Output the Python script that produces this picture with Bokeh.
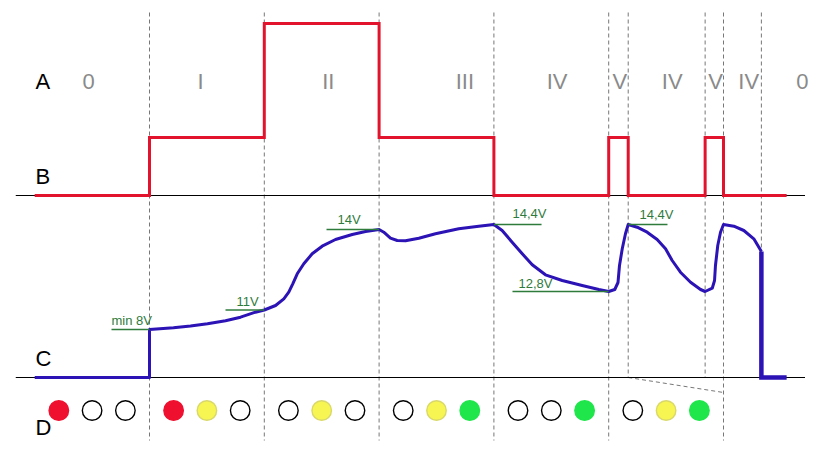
from bokeh.plotting import figure
from bokeh.models import Range1d
from bokeh.core.properties import value
from bokeh.embed import file_html
from bokeh.resources import INLINE

# ---------------- data ----------------
# time axis (arbitrary units); phase boundaries
t_start, t_end = -10, 55.5
phase_bounds = [0, 10, 20, 30, 40, 41.7, 48.4, 50, 53.3]
# boundary lines that stop at the C baseline
short_bounds = [41.7, 48.4, 53.3]

# signal A/B (red): level per segment
red_levels = [0, 1, 2, 1, 0, 1, 0, 1, 0, 0]
red_level_height = [0, 58, 172]   # display height of level 0/1/2 above B baseline
B_BASE = 182                       # B baseline (display units)
C_BASE = 0                         # C baseline

# phase names
phase_names = ["0", "I", "II", "III", "IV", "V", "IV", "V", "IV", "0"]
phase_name_t = [-5.3, 4.45, 15.57, 27.47, 35.5, 40.97, 45.53, 49.3, 52.2, 56.86]
phase_name_v = 296

# signal C (blue): voltage curve, display height above C baseline
c_t = [-10, 0, 0, 2.09, 3.57, 5.05, 6.62, 7.93, 9.23, 10.0, 10.98, 11.70, 12.13,
       12.48, 12.87, 13.44, 14.17, 15.04, 16.20, 17.66, 18.82, 20.0, 20.41, 20.99,
       21.58, 22.30, 23.46, 24.91, 26.94, 28.68, 30.0, 30.72, 31.59, 32.47, 33.34,
       34.49, 35.95, 37.69, 39.14, 40.0, 40.53, 40.81, 40.94, 41.18, 41.46, 41.7,
       42.48, 43.35, 44.22, 44.95, 45.53, 46.25, 47.13, 48.0, 48.4, 49.02, 49.22,
       49.30, 49.50, 49.74, 50.0, 50.9, 51.77, 52.64, 53.3]
c_v = [0, 0, 48, 49.7, 51.5, 53.7, 56.7, 60.3, 65.3, 67.5, 72, 78.7, 85.3,
       93.7, 103.7, 113.7, 123.7, 131.3, 138, 143, 146, 148, 145.3, 139.3,
       137, 136.7, 139.3, 143.7, 148.7, 151.3, 153, 147, 135.3, 123.7, 112.7,
       102.7, 97, 92, 88, 86, 88, 95, 112, 128.7, 143.7, 153,
       150.3, 145.3, 138, 128.7, 117, 105.3, 95.3, 88, 86, 89.3, 97,
       112, 132, 145.3, 153, 151.3, 147, 138.7, 126]
c_off_t = [53.3, 53.3, 55.5]
c_off_v = [126, 0, 0]

# voltage annotations
ann_text = ["min 8V", "11V", "14V", "14,4V", "12,8V", "14,4V"]
ann_t0 = [-3.31, 6.62, 15.42, 30.0, 31.62, 41.7]
ann_t1 = [0.0, 10.0, 20.0, 34.15, 40.0, 45.12]
ann_v = [48, 67.5, 148, 153, 86, 153]
ann_text_t = [-3.31, 7.58, 16.38, 31.62, 32.14, 42.68]
ann_text_v = [57.5, 76.5, 158.5, 164, 94.5, 163.5]

# D: indicator lamps per phase group
lamp_group_t = [-5, 5, 15, 25, 35, 45]
lamp_states = [["red", "off", "off"],
               ["red", "yellow", "off"],
               ["off", "yellow", "off"],
               ["off", "yellow", "green"],
               ["off", "off", "green"],
               ["off", "yellow", "green"]]
lamp_spacing = 2.9
LAMP_V = -33

row_labels = ["A", "B", "C", "D"]
row_label_t = -9.93
row_label_v = [296.2, 201.2, 19.2, -49.5]

# ---------------- styles ----------------
RED = "#e2132d"
BLUE = "#2b13b6"
GREEN_TXT = "#2f7b3c"
GRAY_TXT = "#8a8a8a"
DASH = "#777777"
FONT = "Liberation Sans"
lamp_fill = {"red": "#ef1030", "yellow": "#f6f552", "green": "#1fe64b", "off": "white"}
lamp_line = {"red": "#ef1030", "yellow": "#d9d86a", "green": "#1fe64b", "off": "black"}

px_per_t = 11.48
W, H = 820, 457
x0 = -149 / px_per_t
p = figure(width=W, height=H, output_backend="svg", toolbar_location=None,
           x_range=Range1d(x0, x0 + W / px_per_t), y_range=Range1d(-80, -80 + H),
           min_border=0)
p.axis.visible = False
p.grid.visible = False
p.outline_line_color = None
p.background_fill_color = "white"
p.border_fill_color = "white"

# dashed phase lines
for b in phase_bounds:
    bottom = C_BASE if b in short_bounds else -63
    p.line([b, b], [365, bottom], line_color=DASH, line_width=1, line_dash="4 3")
p.line([41.7, 50], [C_BASE, -15], line_color=DASH, line_width=1, line_dash="4 3")

# baselines
for yb in (B_BASE, C_BASE):
    p.line([-11.65, 57.1], [yb, yb], line_color="black", line_width=1)

# red signal
edges = [t_start] + phase_bounds + [t_end]
rx, ry = [], []
for i, lvl in enumerate(red_levels):
    y = B_BASE + red_level_height[lvl]
    rx += [edges[i], edges[i + 1]]
    ry += [y, y]
p.line(rx, ry, line_color=RED, line_width=3, line_join="miter")

# blue signal
p.line(c_t, c_v, line_color=BLUE, line_width=3, line_join="round")
p.line(c_off_t, c_off_v, line_color=BLUE, line_width=4.5, line_join="miter")

# annotations
for a0, a1, v in zip(ann_t0, ann_t1, ann_v):
    p.line([a0, a1], [v, v], line_color=GREEN_TXT, line_width=1.3)
p.text(x=ann_text_t, y=ann_text_v, text=ann_text, text_color=GREEN_TXT,
       text_font=value(FONT), text_font_size="13px", text_baseline="alphabetic",
       text_align="left")

# phase names
p.text(x=phase_name_t, y=[phase_name_v] * len(phase_names), text=phase_names,
       text_color=GRAY_TXT, text_font=value(FONT), text_font_size="22px",
       text_baseline="alphabetic", text_align="center")

# row labels
p.text(x=[row_label_t] * len(row_labels), y=row_label_v, text=row_labels,
       text_color="black", text_font=value(FONT), text_font_size="22px",
       text_baseline="alphabetic", text_align="left")

# lamps
lx, ly, lf, ll = [], [], [], []
for gt, states in zip(lamp_group_t, lamp_states):
    for k, s in enumerate(states):
        lx.append(gt + (k - 1) * lamp_spacing)
        ly.append(LAMP_V)
        lf.append(lamp_fill[s])
        ll.append(lamp_line[s])
p.scatter(x=lx, y=ly, marker="circle", size=19.5, fill_color=lf, line_color=ll, line_width=1.4)

open("out.html", "w").write(file_html(p, INLINE))
